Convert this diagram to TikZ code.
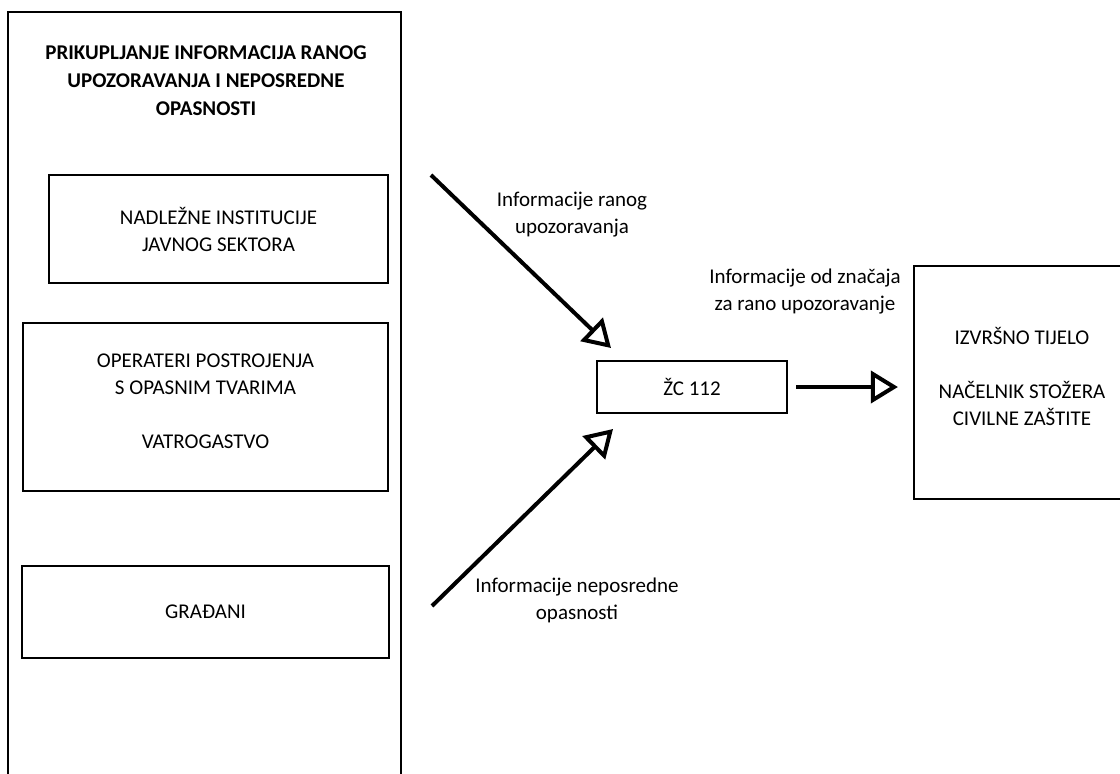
\documentclass[tikz,border=0pt]{standalone}
\usepackage{fontspec}
\setmainfont{Carlito}
\usetikzlibrary{arrows.meta,calc}
\begin{document}
\begin{tikzpicture}[x=1pt,y=-1pt,
  box/.style={draw, line width=2.2pt, inner sep=0pt, align=center, font=\fontsize{21}{27}\selectfont},
  lbl/.style={align=center, inner sep=0pt, font=\fontsize{21}{27}\selectfont},
  arr/.style={line width=4pt, -{Triangle[open, length=27pt, width=32pt, line width=4pt]}}]
\useasboundingbox (0,0) rectangle (1120,774);
\clip (0,0) rectangle (1120,774);
% outer column
\node[box, line width=2.6pt, minimum width=393pt, minimum height=778pt] (outer) at (204.5,401) {};
\node[lbl, font=\fontsize{21}{28}\selectfont\bfseries] (title) at (206,81)
  {PRIKUPLJANJE INFORMACIJA RANOG\\UPOZORAVANJA I NEPOSREDNE\\OPASNOSTI};
\node[box, minimum width=339pt, minimum height=108pt] (b1) at (218.5,229)
  {NADLEŽNE INSTITUCIJE\\JAVNOG SEKTORA};
\node[box, minimum width=365pt, minimum height=168pt,
  label={[lbl, yshift=6pt]center:{OPERATERI POSTROJENJA\\S OPASNIM TVARIMA\\[27pt]VATROGASTVO}}] (b2) at (205.5,407) {};
\node[box, minimum width=367pt, minimum height=92pt] (b3) at (205.5,612)
  {\raisebox{-3pt}{GRAĐANI}};
\node[box, minimum width=190pt, minimum height=52pt] (zc) at (692,387) {ŽC 112};
\node[box, minimum width=216pt, minimum height=233pt,
  label={[lbl, yshift=6pt]center:{IZVRŠNO TIJELO\\[27pt]NAČELNIK STOŽERA\\CIVILNE ZAŠTITE}}] (izv) at (1022,382.5) {};
% labels
\node[lbl] (l1) at (572,215) {Informacije ranog\\upozoravanja};
\node[lbl] (l2) at (805,292) {Informacije od značaja\\za rano upozoravanje};
\node[lbl] (l3) at (577,600) {Informacije neposredne\\opasnosti};
% arrows
\coordinate (a1s) at (431,175);
\coordinate (a1e) at (611,348);
\coordinate (a2s) at (432,606);
\coordinate (a2e) at (613,429);
\draw[arr] (a1s) -- (a1e);
\draw[arr] (a2s) -- (a2e);
\draw[arr, shorten <=8pt, shorten >=15pt] (zc.east) -- (zc.east -| izv.west);
\end{tikzpicture}
\end{document}
